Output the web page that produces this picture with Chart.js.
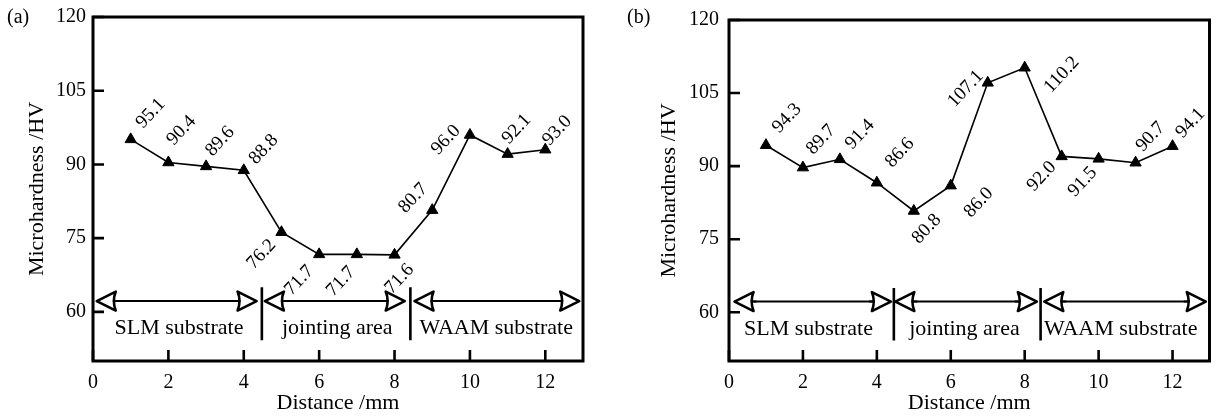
<!DOCTYPE html>
<html>
<head>
<meta charset="utf-8">
<script src="https://cdn.jsdelivr.net/npm/chart.js@4.4.1/dist/chart.umd.min.js"></script>
<style>
    html, body { margin: 0; padding: 0; background: #fff; }
    #wrap { position: relative; width: 1217px; height: 417px; }
    #boxA { position: absolute; left: 0; top: 0; width: 608px; height: 417px; }
    #boxB { position: absolute; left: 608px; top: 0; width: 609px; height: 417px; }
</style>
</head>
<body>
<div id="wrap">
    <div id="boxA"><canvas id="chartA"></canvas></div>
    <div id="boxB"><canvas id="chartB"></canvas></div>
</div>
<script>
// measured points (distance in mm, microhardness in HV)
const distance = [1, 2, 3, 4, 5, 6, 7, 8, 9, 10, 11, 12];
const hardnessA = [95.1, 90.4, 89.6, 88.8, 76.2, 71.7, 71.7, 71.6, 80.7, 96.0, 92.1, 93.0];
const hardnessB = [94.3, 89.7, 91.4, 86.6, 80.8, 86.0, 107.1, 110.2, 92.0, 91.5, 90.7, 94.1];

const xTicks = [0, 2, 4, 6, 8, 10, 12];
const yTicks = [60, 75, 90, 105, 120];

// zone annotations, in axis units
const regionNames = ['SLM substrate', 'jointing area', 'WAAM substrate'];
const arrowFromA = [0.1, 4.56, 8.53];
const arrowToA = [4.34, 8.27, 12.9];
const dividerA = [4.48, 8.42];
const regionTextA = [2.28, 6.48, 10.7];
const arrowFromB = [0.15, 4.5, 8.53];
const arrowToB = [4.38, 8.33, 12.9];
const dividerB = [4.46, 8.43];
const regionTextB = [2.15, 6.37, 10.6];
const arrowLevel = 62.2;
const dividerSpan = [54.2, 65.0];
const regionTextLevel = 56.6;

// label offsets from each marker (px)
const labelOffsetA = [[20, -26], [13, -32], [14, -25], [20, -21], [-20, 22], [-20, 26],
                      [-16, 27], [5, 24], [-19, -12], [-24, 5], [9, -25], [12, -19]];
const labelOffsetB = [[21, -27], [18, -28], [20, -25], [23, -30], [13, 18], [28, 17],
                      [-22, 6], [37, 7], [-20, 20], [-16, 23], [15, -26], [18, -23]];

const SERIF = "'Times New Roman', 'Liberation Serif', 'DejaVu Serif', serif";

function drawHead(ctx, tipX, tipY, dir) {
    // open arrow head with a shallow notch at the back, dir = -1 points left, 1 points right
    const L = 19, H = 9.5;
    ctx.beginPath();
    ctx.moveTo(tipX, tipY);
    ctx.lineTo(tipX - dir * L, tipY - H);
    ctx.quadraticCurveTo(tipX - dir * L * 0.8, tipY, tipX - dir * L, tipY + H);
    ctx.closePath();
    ctx.fillStyle = '#fff';
    ctx.fill();
    ctx.stroke();
}

const panelDecor = {
    id: 'panelDecor',
    afterDatasetsDraw(chart, args, o) {
        const {ctx, chartArea: a, scales: {x, y}} = chart;
        ctx.save();
        ctx.strokeStyle = '#000';
        ctx.fillStyle = '#000';

        // frame and inward ticks
        ctx.lineWidth = 3;
        ctx.strokeRect(a.left, a.top, a.right - a.left, a.bottom - a.top);
        ctx.lineWidth = 2.6;
        ctx.beginPath();
        xTicks.forEach(t => {
            const px = x.getPixelForValue(t);
            ctx.moveTo(px, a.bottom);
            ctx.lineTo(px, a.bottom - 11);
        });
        yTicks.forEach(t => {
            const py = y.getPixelForValue(t);
            ctx.moveTo(a.left, py);
            ctx.lineTo(a.left + 11, py);
        });
        ctx.stroke();

        // zone arrows
        const ay = y.getPixelForValue(arrowLevel);
        o.from.forEach((f, i) => {
            const x1 = x.getPixelForValue(f), x2 = x.getPixelForValue(o.to[i]);
            ctx.lineWidth = 2;
            ctx.beginPath();
            ctx.moveTo(x1 + 10, ay);
            ctx.lineTo(x2 - 10, ay);
            ctx.stroke();
            ctx.lineWidth = 2.6;
            ctx.lineJoin = 'round';
            drawHead(ctx, x1, ay, -1);
            drawHead(ctx, x2, ay, 1);
            ctx.lineWidth = 2;
            ctx.beginPath();
            ctx.moveTo(x1 + 19 * 0.85, ay);
            ctx.lineTo(x1 + 22, ay);
            ctx.moveTo(x2 - 19 * 0.85, ay);
            ctx.lineTo(x2 - 22, ay);
            ctx.stroke();
        });

        // dividers
        ctx.lineWidth = 2.6;
        ctx.beginPath();
        o.dividers.forEach(d => {
            const px = x.getPixelForValue(d);
            ctx.moveTo(px, y.getPixelForValue(dividerSpan[1]));
            ctx.lineTo(px, y.getPixelForValue(dividerSpan[0]));
        });
        ctx.stroke();

        // zone names
        ctx.fillStyle = '#000';
        ctx.font = '22px ' + SERIF;
        ctx.textAlign = 'center';
        ctx.textBaseline = 'middle';
        regionNames.forEach((name, i) => {
            ctx.fillText(name, x.getPixelForValue(o.textX[i]), y.getPixelForValue(regionTextLevel));
        });

        // value labels, rotated
        const meta = chart.getDatasetMeta(0);
        ctx.font = '19px ' + SERIF;
        meta.data.forEach((pt, i) => {
            const off = o.offsets[i];
            ctx.save();
            ctx.translate(pt.x + off[0], pt.y + off[1]);
            ctx.rotate(-47 * Math.PI / 180);
            ctx.fillText(chart.data.datasets[0].data[i].y.toFixed(1), 0, 0);
            ctx.restore();
        });

        // panel letter
        ctx.font = '20px ' + SERIF;
        ctx.textAlign = 'left';
        ctx.fillText(o.letter, o.letterX, 18);
        ctx.restore();
    }
};

function makeChart(id, values, cfg) {
    const ctx = document.getElementById(id).getContext('2d');
    return new Chart(ctx, {
        type: 'line',
        data: {
            datasets: [{
                data: distance.map((d, i) => ({x: d, y: values[i]})),
                borderColor: '#000',
                borderWidth: 1.6,
                pointStyle: 'triangle',
                pointRadius: 6.5,
                pointBackgroundColor: '#000',
                pointBorderColor: '#000',
                pointBorderWidth: 1,
                tension: 0,
                fill: false
            }]
        },
        options: {
            responsive: true,
            maintainAspectRatio: false,
            animation: false,
            devicePixelRatio: 1,
            layout: { padding: { top: 12, right: cfg.rightPad, left: 0, bottom: 0 } },
            plugins: {
                legend: { display: false },
                tooltip: { enabled: false },
                panelDecor: cfg.decor
            },
            scales: {
                x: {
                    type: 'linear',
                    min: 0,
                    max: 13,
                    afterBuildTicks: s => { s.ticks = xTicks.map(v => ({value: v})); },
                    afterFit: s => { s.height = 56; },
                    grid: { display: false, drawTicks: false },
                    border: { display: false },
                    ticks: {
                        color: '#000',
                        font: { family: SERIF, size: 20, lineHeight: 1 },
                        padding: 12,
                        maxRotation: 0,
                        autoSkip: false
                    },
                    title: {
                        display: true,
                        text: 'Distance /mm',
                        color: '#000',
                        font: { family: SERIF, size: 22, lineHeight: 1 },
                        padding: { top: 0, bottom: 3 }
                    }
                },
                y: {
                    min: 50,
                    max: 120,
                    afterBuildTicks: s => { s.ticks = yTicks.map(v => ({value: v})); },
                    afterFit: s => { s.width = cfg.yWidth; },
                    grid: { display: false, drawTicks: false },
                    border: { display: false },
                    ticks: {
                        color: '#000',
                        font: { family: SERIF, size: 20, lineHeight: 1 },
                        padding: cfg.yTickPad
                    },
                    title: {
                        display: true,
                        text: 'Microhardness /HV',
                        color: '#000',
                        font: { family: SERIF, size: 22, lineHeight: 1 },
                        padding: { top: cfg.yTitlePad, bottom: 0 }
                    }
                }
            }
        },
        plugins: [panelDecor]
    });
}

makeChart('chartA', hardnessA, {
    rightPad: 25, yWidth: 93, yTickPad: 7, yTitlePad: 26,
    decor: { from: arrowFromA, to: arrowToA, dividers: dividerA, textX: regionTextA,
             offsets: labelOffsetA, letter: '(a)', letterX: 7 }
});
makeChart('chartB', hardnessB, {
    rightPad: 1, yWidth: 121, yTickPad: 10, yTitlePad: 50,
    decor: { from: arrowFromB, to: arrowToB, dividers: dividerB, textX: regionTextB,
             offsets: labelOffsetB, letter: '(b)', letterX: 19 }
});
</script>
</body>
</html>
